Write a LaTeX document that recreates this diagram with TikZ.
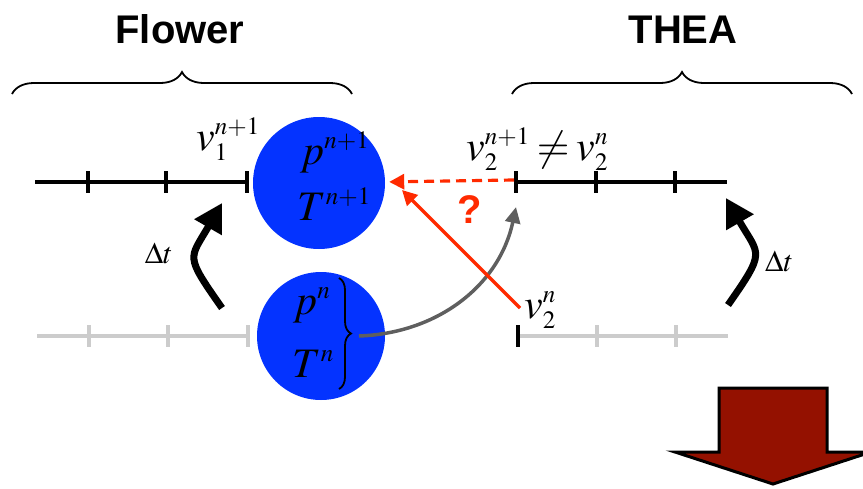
\documentclass[tikz,border=0pt]{standalone}
\usepackage[no-math]{fontspec}
\usepackage{mathptmx}
\newfontfamily\hdfont{Liberation Sans}
\usetikzlibrary{arrows.meta,decorations.pathreplacing,positioning}
\DeclareMathSizes{42}{42}{25}{18}
\definecolor{cBall}{HTML}{0433FF}
\definecolor{cRed}{HTML}{FF2A00}
\definecolor{cDark}{HTML}{941100}
\definecolor{cOld}{HTML}{CCCCCC}
\definecolor{cLink}{HTML}{5F5F5F}
\tikzset{
  ball/.style  = {circle, fill=cBall, inner sep=0pt},
  mth/.style   = {font=\fontsize{42}{48}\selectfont, inner sep=0pt},
  dtl/.style   = {font=\fontsize{30}{36}\selectfont, inner sep=0pt},
  hd/.style    = {font=\hdfont\bfseries\fontsize{40}{48}\selectfont, inner sep=0pt},
  cur/.style   = {draw=black, line width=3.5pt},
  old/.style   = {draw=cOld, line width=3.5pt},
  brc/.style   = {decorate, decoration={brace, amplitude=#1}, line width=1.8pt},
  dtarr/.style = {-{Triangle[length=28pt,width=30pt]}, line width=7pt, looseness=1.6},
}

\begin{document}
\begin{tikzpicture}[x=1pt, y=-1pt,
  rarr/.style={-{Triangle[length=15pt,width=15pt]}, draw=cRed, line width=3.2pt},
  ]
  \useasboundingbox (0,0) rectangle (863,488);

  % titles and braces
  \node[hd, anchor=base] (flw) at (180,43) {Flower};
  \node[hd, anchor=base] (thea) at (683,43) {THEA};
  \draw[brc=22pt] (12,94) -- (352,94);
  \draw[brc=22pt] (512,94) -- (852,94);

  % grids at n+1
  \draw[cur] (35,182) -- (247,182);
  \foreach \x in {88,166,247}
    \draw[cur] (\x,171) -- (\x,193);
  \draw[cur] (516,182) -- (727,182);
  \foreach \x in {516,596,675}
    \draw[cur] (\x,171) -- (\x,193);

  % grids at n
  \draw[old] (37,336) -- (248,336);
  \foreach \x in {89,168,248}
    \draw[old] (\x,325) -- (\x,347);
  \draw[old] (518,336) -- (728,336);
  \foreach \x in {597,676}
    \draw[old] (\x,325) -- (\x,347);
  \draw[cur] (518,325) -- (518,347);

  % interface cells
  \node[ball, minimum size=132pt] (cu) at (319,183) {};
  \node[ball, minimum size=128pt] (cl) at (321,336) {};
  \node[mth, anchor=base west] (pu) at (300,164) {$p^{n+1}$};
  \node[mth, anchor=base west] (Tu) at (297,220) {$T^{n+1}$};
  \node[mth, anchor=base west] (pl) at (293,314) {$p^{n}$};
  \node[mth, anchor=base west] (Tl) at (292,377) {$T^{n}$};
  \draw[brc=12pt] (339,278) -- (339,389);

  % velocities
  \node[mth, anchor=base west] (v2) at (466,160) {$v_2^{n+1}\mkern-1mu\neq\mkern-1mu v_2^{n}$};
  \node[mth, anchor=base west] (v1) at (196,150) {$v_1^{n+1}$};
  \node[mth, anchor=base west] (v2n) at (524,318) {$v_2^{n}$};

  % time steps
  \node[dtl, anchor=base east] (dtl) at (173,263) {$\Delta t$};
  \node[dtl, anchor=base west] (dtr) at (765,271) {$\Delta t$};
  \coordinate (la) at (222,308);
  \coordinate (lb) at (222,203);
  \coordinate (ra) at (728,305);
  \coordinate (rb) at (726,198);
  \draw[dtarr] (la) to[out=125, in=-120] (lb);
  \draw[dtarr] (ra) to[out=55, in=-60] (rb);

  % coupling
  \coordinate (bt) at (359,336);
  \coordinate (gt) at (516,207);
  \draw[-{Triangle[length=16pt,width=15pt]}, draw=cLink, line width=3.5pt]
    (bt) to[out=2, in=-102] (gt);
  \coordinate (tk) at (514,180);
  \draw[rarr, dash pattern=on 10pt off 6pt, shorten >=4pt] (tk) -- (cu);
  \coordinate (rs) at (520,308);
  \coordinate (rt) at (402,190);
  \draw[rarr] (rs) -- (rt);
  \node[hd, text=cRed, anchor=center] (qm) at (470,210) {?};

  % next step
  \draw[fill=cDark, draw=black, line width=3pt]
    (719,388) -- (827,388) -- (827,452) -- (871,452) -- (773,484)
    -- (675,452) -- (719,452) -- cycle;
\end{tikzpicture}
\end{document}
